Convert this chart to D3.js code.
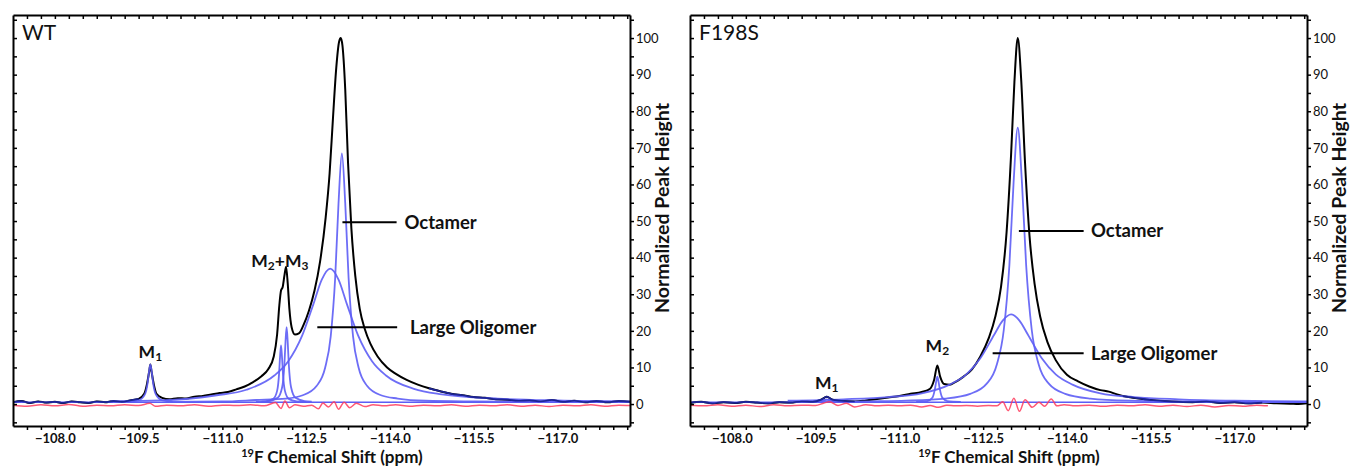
<!DOCTYPE html>
<html><head><meta charset="utf-8">
<script src="https://cdn.jsdelivr.net/npm/d3@7"></script>
<style>
body{margin:0;background:#fff;}
svg{display:block;}
text{font-family:Lato,"Open Sans",sans-serif;fill:#111;}
</style>
</head><body>
<svg id="c" width="1351" height="469"></svg>
<script>
// ---------- tick labels ----------
const ppmTickLabels = [-108.0, -109.5, -111.0, -112.5, -114.0, -115.5, -117.0];
const heightTickLabels = [0, 10, 20, 30, 40, 50, 60, 70, 80, 90, 100];
const panelNames = ["WT", "F198S"];

// ---------- WT series: [ppm, normalized height] ----------
const wtSpectrum = [
[-107.25,0.5],[-107.4,0.8],[-107.55,0.3],[-107.7,0.7],[-107.85,0.4],[-108.0,0.6],[-108.15,0.3],[-108.3,0.7],[-108.45,0.5],[-108.6,0.3],[-108.75,0.7],[-108.9,0.5],[-109.05,0.8],[-109.2,0.6],[-109.35,1.0],[-109.5,1.4],[-109.6,2.8],[-109.65,5.5],[-109.69,9.0],[-109.71,10.8],[-109.73,9.0],[-109.77,5.5],[-109.82,2.8],[-109.92,1.7],[-110.05,1.3],[-110.2,1.6],[-110.35,1.5],[-110.5,2.0],[-110.65,2.2],[-110.8,2.6],[-110.95,3.0],[-111.1,3.3],[-111.25,4.0],[-111.4,4.8],[-111.55,6.0],[-111.7,7.6],[-111.82,9.5],[-111.92,13],[-111.98,19],[-112.02,27],[-112.05,31],[-112.08,32],[-112.11,35],[-112.14,37.5],[-112.17,33],[-112.2,26],[-112.24,21],[-112.3,19],[-112.37,19.3],[-112.45,21.5],[-112.55,25.5],[-112.65,31],[-112.75,39],[-112.85,51],[-112.92,63],[-112.98,78],[-113.04,92],[-113.09,99],[-113.12,100],[-113.15,98],[-113.2,86],[-113.25,66],[-113.31,48],[-113.38,35],[-113.46,26],[-113.55,20.5],[-113.65,16.5],[-113.78,13],[-113.95,10],[-114.1,8.3],[-114.3,6.6],[-114.5,5.3],[-114.7,4.3],[-114.9,3.5],[-115.1,2.8],[-115.3,2.4],[-115.5,1.9],[-115.7,1.7],[-115.9,1.3],[-116.1,1.2],[-116.3,0.9],[-116.5,1.0],[-116.7,0.7],[-116.9,1.1],[-117.1,0.6],[-117.3,0.9],[-117.5,0.5],[-117.7,0.8],[-117.9,0.5],[-118.1,0.8],[-118.3,0.6]
];
const wtM1 = [[-109.3,0.65],[-109.51,1.1],[-109.61,2.56],[-109.66,5.65],[-109.685,8.74],[-109.71,10.8],[-109.735,8.74],[-109.76,5.65],[-109.81,2.56],[-109.91,1.1],[-110.11,0.65]];
const wtM2 = [[-111.6,0.6],[-111.77,0.74],[-111.91,1.41],[-111.98,3.6],[-112.015,8.25],[-112.0325,12.9],[-112.05,16.0],[-112.0675,12.9],[-112.085,8.25],[-112.12,3.6],[-112.19,1.41],[-112.33,0.74],[-112.5,0.6]];
const wtM3 = [[-111.7,0.65],[-111.83,0.82],[-111.99,1.7],[-112.07,4.6],[-112.11,10.75],[-112.13,16.9],[-112.15,21.0],[-112.17,16.9],[-112.19,10.75],[-112.23,4.6],[-112.31,1.7],[-112.47,0.82],[-112.6,0.65]];
const wtLargeOligomer = [[-109.0,0.8],[-109.9,1.0],[-110.9,2.4],[-111.43,3.9],[-111.93,7.8],[-112.18,11.7],[-112.43,18.75],[-112.63,27.3],[-112.78,34.0],[-112.93,37.0],[-113.08,34.0],[-113.23,27.3],[-113.43,18.75],[-113.68,11.7],[-113.93,7.8],[-114.43,4.15],[-114.93,2.65],[-115.93,1.5],[-117.0,1.0],[-118.3,0.75]];
const wtOctamer = [[-110.0,0.6],[-111.0,0.7],[-111.6,1.1],[-112.14,1.5],[-112.44,2.4],[-112.69,5.0],[-112.84,9.9],[-112.94,18.5],[-113.02,34.5],[-113.08,54.9],[-113.14,68.5],[-113.20,54.9],[-113.26,34.5],[-113.34,18.5],[-113.44,9.9],[-113.59,5.0],[-113.84,2.4],[-114.14,1.5],[-114.64,0.9],[-115.5,0.7],[-116.5,0.6],[-118.3,0.55]];
const wtResidual = [[-107.25,-0.3],[-107.5,-0.6],[-107.75,-0.2],[-108,-0.5],[-108.25,-0.1],[-108.5,-0.6],[-108.75,-0.3],[-109,-0.5],[-109.25,-0.2],[-109.5,-0.4],[-109.7,0.2],[-109.8,-0.6],[-110,-0.3],[-110.25,-0.5],[-110.5,-0.2],[-110.75,-0.6],[-111,-0.3],[-111.25,-0.4],[-111.5,-0.2],[-111.75,-0.5],[-111.95,0.4],[-112.05,-1.2],[-112.12,0.8],[-112.2,-1.0],[-112.3,-0.2],[-112.45,-0.6],[-112.6,-0.3],[-112.72,-1.3],[-112.8,0.3],[-112.9,-0.8],[-113.0,0.6],[-113.08,-1.4],[-113.18,0.5],[-113.28,-1.0],[-113.4,0.2],[-113.55,-0.7],[-113.7,-0.2],[-113.9,-0.5],[-114.1,-0.2],[-114.35,-0.6],[-114.6,-0.3],[-114.85,-0.5],[-115.1,-0.2],[-115.35,-0.6],[-115.6,-0.3],[-115.85,-0.5],[-116.1,-0.2],[-116.35,-0.6],[-116.6,-0.3],[-116.85,-0.7],[-117.1,-0.3],[-117.35,-0.5],[-117.6,-0.2],[-117.85,-0.6],[-118.1,-0.3],[-118.3,-0.4]];

// ---------- F198S series ----------
const f198sSpectrum = [
[-107.25,0.3],[-107.45,0.6],[-107.65,0.2],[-107.85,0.5],[-108.05,0.3],[-108.25,0.6],[-108.45,0.4],[-108.65,0.2],[-108.85,0.5],[-109.05,0.4],[-109.25,0.7],[-109.45,0.6],[-109.6,1.2],[-109.7,2.0],[-109.8,1.2],[-109.95,0.9],[-110.2,0.7],[-110.4,1.0],[-110.6,1.4],[-110.8,1.8],[-111.0,2.2],[-111.2,2.8],[-111.4,3.3],[-111.55,4.2],[-111.62,6.5],[-111.68,10.5],[-111.73,7.5],[-111.8,5.5],[-111.9,5.3],[-112.0,6.0],[-112.15,7.5],[-112.3,9.5],[-112.45,13],[-112.6,18],[-112.72,24],[-112.82,32],[-112.92,47],[-113.0,68],[-113.06,88],[-113.12,100],[-113.18,89],[-113.25,66],[-113.33,46],[-113.42,33],[-113.52,24],[-113.65,17],[-113.8,12],[-114.0,8.0],[-114.2,6.2],[-114.4,4.8],[-114.6,3.8],[-114.75,3.4],[-114.9,2.6],[-115.0,2.2],[-115.25,1.6],[-115.5,1.1],[-115.75,0.8],[-116.0,0.6],[-116.25,0.5],[-116.5,0.7],[-116.75,0.3],[-117.0,0.5],[-117.25,0.2],[-117.5,0.4],[-117.75,0.2],[-118.0,0.1],[-118.15,0.0],[-118.3,0.2]
];
const f198sM1 = [[-109.4,0.55],[-109.6,0.8],[-109.65,1.0],[-109.7,1.3],[-109.75,1.0],[-109.8,0.8],[-110.0,0.55]];
const f198sM2 = [[-111.3,0.6],[-111.5,0.8],[-111.59,1.7],[-111.635,4.0],[-111.66,6.2],[-111.68,7.5],[-111.70,6.2],[-111.725,4.0],[-111.77,1.7],[-111.86,0.8],[-112.1,0.6]];
const f198sLargeOligomer = [[-109.0,0.9],[-110.0,1.3],[-110.8,1.9],[-111.4,2.9],[-111.9,5.3],[-112.2,8.1],[-112.45,12.5],[-112.7,19],[-112.85,22.8],[-113.0,24.5],[-113.15,22.8],[-113.3,19],[-113.55,12.5],[-113.8,8.1],[-114.1,5.3],[-114.6,2.9],[-115.2,1.9],[-116.0,1.3],[-117.0,0.9],[-118.3,0.7]];
const f198sOctamer = [[-109.5,0.6],[-110.5,0.75],[-111.12,0.92],[-111.82,1.5],[-112.27,2.8],[-112.56,5.5],[-112.745,10.8],[-112.87,20.3],[-112.97,38],[-113.045,60.5],[-113.12,75.5],[-113.195,60.5],[-113.27,38],[-113.37,20.3],[-113.495,10.8],[-113.68,5.5],[-113.97,2.8],[-114.42,1.5],[-115.12,0.92],[-116.2,0.7],[-118.3,0.55]];
const f198sResidual = [[-107.25,-0.3],[-107.5,-0.5],[-107.75,-0.2],[-108,-0.6],[-108.25,-0.3],[-108.5,-0.7],[-108.75,-0.2],[-109,-0.5],[-109.25,-0.3],[-109.5,-0.4],[-109.65,0.3],[-109.75,0.6],[-109.9,-0.4],[-110.05,0.2],[-110.2,-0.8],[-110.4,-0.2],[-110.6,-0.5],[-110.8,-0.3],[-111.0,-0.5],[-111.2,-0.3],[-111.4,-0.8],[-111.55,-0.4],[-111.7,-0.9],[-111.85,-0.3],[-112.0,-0.5],[-112.2,-0.4],[-112.4,-0.6],[-112.6,-0.4],[-112.75,-0.5],[-112.85,0.6],[-112.95,-1.8],[-113.05,1.6],[-113.15,-2.0],[-113.25,1.2],[-113.38,-0.9],[-113.5,0.5],[-113.6,-0.6],[-113.72,1.4],[-113.82,-0.5],[-113.95,-0.2],[-114.15,-0.5],[-114.4,-0.3],[-114.65,-0.6],[-114.9,-0.3],[-115.15,-0.5],[-115.4,-0.2],[-115.65,-0.6],[-115.9,-0.3],[-116.15,-0.7],[-116.4,-0.3],[-116.65,-0.8],[-116.9,-0.4],[-117.15,-0.6],[-117.4,-0.3],[-117.6,-0.5]];

// ---------- panels (data + layout) ----------
const panels = [
  { name: panelNames[0], dx: 0, spectrum: wtSpectrum, comps: [wtM1, wtM2, wtM3, wtLargeOligomer, wtOctamer], residual: wtResidual,
    navy: [[-107.25,-109.55],[-114.6,-118.3]],
    oct: {a:-113.15, b:-114.12, v:49.7, t:-114.26}, lo: {a:-112.70, b:-114.13, v:21, t:-114.36},
    mlabels: [{parts:[["M",0],["1",1]], p:-109.71, v:14.2}, {parts:[["M",0],["2",1],["+M",0],["3",1]], p:-112.03, v:39}] },
  { name: panelNames[1], dx: 677, spectrum: f198sSpectrum, comps: [f198sM1, f198sM2, f198sLargeOligomer, f198sOctamer], residual: f198sResidual,
    navy: [[-107.25,-110.3],[-115.0,-117.6]],
    oct: {a:-113.14, b:-114.3, v:47.3, t:-114.43}, lo: {a:-112.67, b:-114.3, v:13.9, t:-114.43},
    mlabels: [{parts:[["M",0],["1",1]], p:-109.7, v:5.7}, {parts:[["M",0],["2",1]], p:-111.68, v:15.8}] }
];

const svg = d3.select("#c");
const L = 13, R = 630, T = 15, B = 426;

panels.forEach((pn, i) => {
  const g = svg.append("g").attr("transform", `translate(${pn.dx},0)`);
  const x = d3.scaleLinear().domain([-107.25, -118.3]).range([L, R]);
  const y = d3.scaleLinear().domain([-6, 106.3]).range([B, T]);
  const line = d3.line().x(d => x(d[0])).y(d => y(d[1])).curve(d3.curveMonotoneX);

  const cid = "clip" + i;
  g.append("clipPath").attr("id", cid).append("rect").attr("x", L).attr("y", T).attr("width", R - L).attr("height", B - T);
  const plot = g.append("g").attr("clip-path", `url(#${cid})`);

  // experimental spectrum
  plot.append("path").datum(pn.spectrum).attr("d", line).attr("fill", "none").attr("stroke", "#000").attr("stroke-width", 2);
  // fit baseline
  plot.append("path").datum([[-107.25, 0.5], [-118.3, 0.5]]).attr("d", line).attr("fill", "none").attr("stroke", "#5d5df5").attr("stroke-width", 1.4);
  // fitted components
  pn.comps.forEach(c => {
    plot.append("path").datum(c).attr("d", line).attr("fill", "none").attr("stroke", "#5d5df5").attr("stroke-width", 1.8).attr("stroke-opacity", 0.9);
  });
  // residual
  plot.append("path").datum(pn.residual).attr("d", line).attr("fill", "none").attr("stroke", "#ff3b5c").attr("stroke-width", 1.5).attr("stroke-opacity", 0.85);
  // navy overlay of baseline regions
  pn.navy.forEach(r => {
    const seg = pn.spectrum.filter(d => d[0] <= r[0] && d[0] >= r[1]);
    plot.append("path").datum(seg).attr("d", line).attr("fill", "none").attr("stroke", "#1c2496").attr("stroke-width", 1.7);
  });

  // axes
  const minor = d3.range(-107.5, -118.3, -0.25);
  const isLab = v => ppmTickLabels.some(t => Math.abs(t - v) < 1e-6);
  const hMinor = d3.range(-5, 106, 5);
  const bottom = g.append("g").attr("transform", `translate(0,${B})`)
    .call(d3.axisBottom(x).tickValues(minor).tickSize(4).tickSizeOuter(0).tickPadding(4)
      .tickFormat(v => isLab(v) ? d3.format(".1f")(v) : ""));
  const top = g.append("g").attr("transform", `translate(0,${T})`)
    .call(d3.axisTop(x).tickValues(minor).tickSize(-4).tickSizeOuter(0).tickFormat(""));
  const left = g.append("g").attr("transform", `translate(${L},0)`)
    .call(d3.axisLeft(y).tickValues(hMinor).tickSize(-4).tickSizeOuter(0).tickFormat(""));
  const right = g.append("g").attr("transform", `translate(${R},0)`)
    .call(d3.axisRight(y).tickValues(hMinor).tickSize(4).tickSizeOuter(0).tickPadding(2)
      .tickFormat(v => heightTickLabels.includes(v) ? String(v) : ""));
  [bottom, top, left, right].forEach(a => {
    a.select(".domain").attr("stroke", "#000").attr("stroke-width", 2);
    a.selectAll(".tick line").attr("stroke", "#000").attr("stroke-width", 1.5);
  });
  bottom.selectAll("text").attr("font-size", 13).attr("font-weight", 700).attr("fill", "#222").style("font-family", "Lato");
  right.selectAll("text").attr("font-size", 13).attr("fill", "#222").style("font-family", "Lato");

  // axis titles
  const xt = g.append("text").attr("x", 332).attr("y", 463).attr("text-anchor", "middle")
    .attr("font-size", 17).attr("font-weight", 700);
  xt.append("tspan").attr("font-size", 11).attr("dy", -6).text("19");
  xt.append("tspan").attr("dy", 6).text("F Chemical Shift (ppm)");
  g.append("text").attr("transform", "translate(669,208) rotate(-90)").attr("text-anchor", "middle")
    .attr("font-size", 19.5).attr("font-weight", 700).text("Normalized Peak Height");

  // panel name
  g.append("text").attr("x", 22).attr("y", 40).attr("font-size", 21).text(pn.name);

  // annotations
  [[pn.oct, "Octamer"], [pn.lo, "Large Oligomer"]].forEach(([o, label]) => {
    g.append("line").attr("x1", x(o.a)).attr("x2", x(o.b)).attr("y1", y(o.v)).attr("y2", y(o.v))
      .attr("stroke", "#000").attr("stroke-width", 2);
    g.append("text").attr("x", x(o.t)).attr("y", y(o.v)).attr("dy", "0.35em")
      .attr("font-size", 18.5).attr("font-weight", 700).text(label);
  });
  pn.mlabels.forEach(m => {
    const t = g.append("text").attr("x", x(m.p)).attr("y", y(m.v) + 6).attr("text-anchor", "middle")
      .attr("font-size", 17.5).attr("font-weight", 700);
    let sub = false;
    m.parts.forEach(([s, isSub]) => {
      const ts = t.append("tspan").text(s);
      if (isSub && !sub) { ts.attr("font-size", 12).attr("dy", 3); sub = true; }
      else if (!isSub && sub) { ts.attr("dy", -3); sub = false; }
    });
  });
});
</script>
</body></html>
